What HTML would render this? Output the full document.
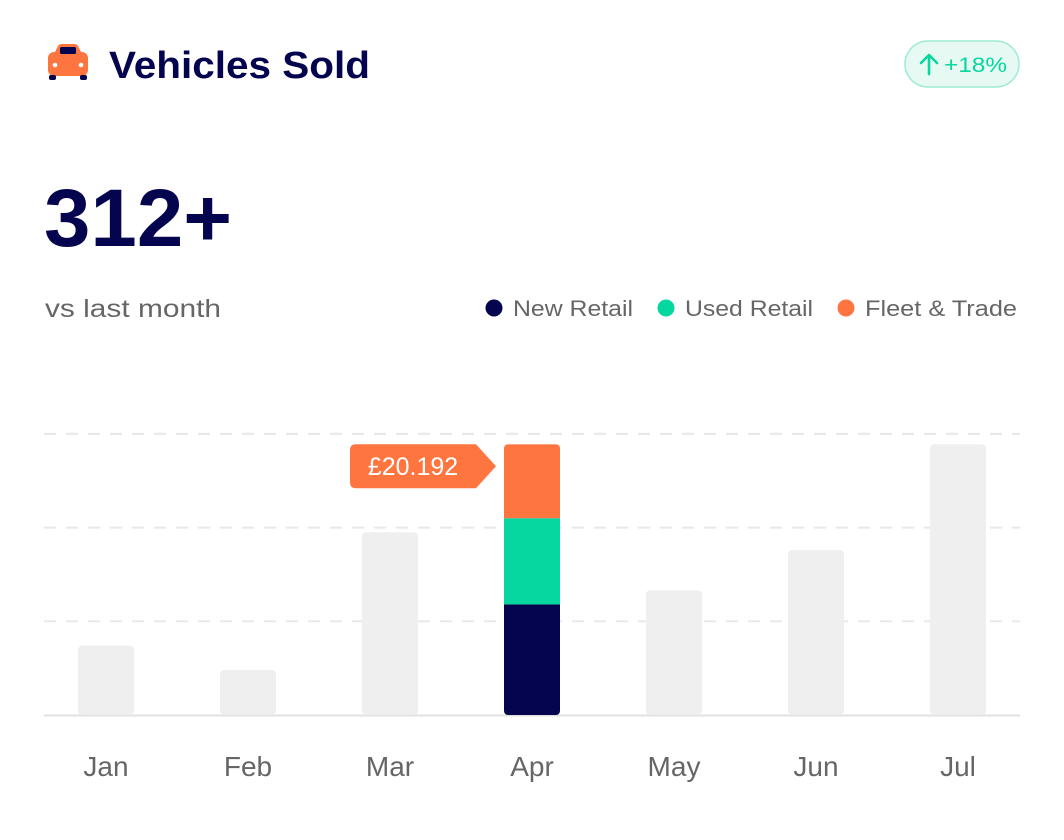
<!DOCTYPE html>
<html><head><meta charset="utf-8"><style>
body{margin:0;background:#fff;font-family:"Liberation Sans",sans-serif;}
#wrap{position:relative;width:1064px;height:840px;overflow:hidden;}
</style></head><body>
<div id="wrap">
<svg id="chart" width="1064" height="840">
  <g>
    <rect x="48" y="52" width="40" height="24" rx="6" fill="#FF7540"/>
    <path d="M54 54 L58 46 Q59 44 62 44 L74 44 Q77 44 78 46 L82 54 Z" fill="#FF7540"/>
    <rect x="60" y="47" width="16" height="7" rx="1.5" fill="#05054F"/>
    <circle cx="55" cy="65" r="2.3" fill="#fff"/><circle cx="81" cy="65" r="2.3" fill="#fff"/>
    <rect x="49" y="75" width="7" height="5" rx="2" fill="#05054F"/><rect x="80" y="75" width="7" height="5" rx="2" fill="#05054F"/>
  </g>
  <text x="109" y="78" font-size="38" font-weight="bold" fill="#05054F" textLength="261" lengthAdjust="spacingAndGlyphs">Vehicles Sold</text>
  <g>
    <rect x="905" y="41" width="114" height="46" rx="23" fill="#E6FAF3" stroke="#9EEBD0" stroke-width="1.5"/>
    <path d="M929 74 V56 M921 63 L929 55 L937 63" stroke="#06D6A0" stroke-width="2.6" fill="none" stroke-linecap="round" stroke-linejoin="round"/>
    <text x="944" y="72" font-size="21" fill="#06D6A0" textLength="63" lengthAdjust="spacingAndGlyphs">+18%</text>
  </g>
  <text x="44" y="246" font-size="82" font-weight="bold" fill="#05054F" textLength="188" lengthAdjust="spacingAndGlyphs">312+</text>
  <text x="45" y="317" font-size="25" fill="#666" textLength="176" lengthAdjust="spacingAndGlyphs">vs last month</text>
  <g>
    <circle cx="494" cy="308" r="8.5" fill="#05054F"/><text x="513" y="316" font-size="22" fill="#666" textLength="120" lengthAdjust="spacingAndGlyphs">New Retail</text>
    <circle cx="666" cy="308" r="8.5" fill="#06D6A0"/><text x="685" y="316" font-size="22" fill="#666" textLength="128" lengthAdjust="spacingAndGlyphs">Used Retail</text>
    <circle cx="846" cy="308" r="8.5" fill="#FF7540"/><text x="865" y="316" font-size="22" fill="#666" textLength="152" lengthAdjust="spacingAndGlyphs">Fleet &amp; Trade</text>
  </g>
  <g id="grid"></g><g id="bars"></g><g id="labels"></g><g id="tip"></g>
</svg>
</div>
<script>
const months=["Jan","Feb","Mar","Apr","May","Jun","Jul"];
const totals=[74,48,195,289,133,176,289];
const newRetail=[0,0,0,118,0,0,0];
const usedRetail=[0,0,0,92,0,0,0];
const fleetTrade=[0,0,0,79,0,0,0];
const gridTicks=[100,200,300];
const highlightIndex=3;
const tipLabel="£20.192";
const NS="http://www.w3.org/2000/svg";
const y0=715,pxPer=0.937;
const y=v=>y0-v*pxPer;
const x=i=>106+i*142;
const bw=56;
function mk(t,a,p){const e=document.createElementNS(NS,t);for(const k in a)e.setAttribute(k,a[k]);p.appendChild(e);return e;}
const grid=document.getElementById('grid');
gridTicks.forEach(t=>{const l=mk('line',{x1:44,x2:1020,y1:y(t),y2:y(t),stroke:'#E8E8E8','stroke-width':2,'stroke-dasharray':'12 10'},grid);

});
const base=mk('line',{x1:44,x2:1020,y1:y0+0.5,y2:y0+0.5,stroke:'#E2E2E2','stroke-width':2},grid);


const bars=document.getElementById('bars');
months.forEach((m,i)=>{
  if(i===highlightIndex){
    const g=mk('g',{},bars);
    
    
    const cp=mk('clipPath',{id:'cp'},g);
    const top=y(newRetail[i]+usedRetail[i]+fleetTrade[i]);
    mk('rect',{x:x(i)-bw/2,y:top,width:bw,height:y0-top,rx:4},cp);
    const segs=[[newRetail[i],'#05054F','segment-new-retail'],[usedRetail[i],'#06D6A0','segment-used-retail'],[fleetTrade[i],'#FF7540','segment-fleet-trade']];
    let acc=0;
    segs.forEach(s=>{const r=mk('rect',{x:x(i)-bw/2,y:y(acc+s[0]),width:bw,height:s[0]*pxPer,fill:s[1],'clip-path':'url(#cp)'},g);
      
      
      acc+=s[0];});
  } else {
    const r=mk('rect',{x:x(i)-bw/2,y:y(totals[i]),width:bw,height:totals[i]*pxPer,rx:4,fill:'#EFEFEF'},bars);
    
    
  }
  const t=mk('text',{x:x(i),y:776,'font-size':28,fill:'#666','text-anchor':'middle'},document.getElementById('labels'));
  t.textContent=m;
  
  
});
const tip=document.getElementById('tip');
const ty=y(totals[highlightIndex]),tr=x(highlightIndex)-bw/2-8;
const tg=mk('g',{},tip);


mk('path',{d:`M${tr-20} ${ty} L${tr-146+6} ${ty} Q${tr-146} ${ty} ${tr-146} ${ty+6} L${tr-146} ${ty+38} Q${tr-146} ${ty+44} ${tr-140} ${ty+44} L${tr-20} ${ty+44} L${tr} ${ty+22} Z`,fill:'#FF7540'},tg);
const tt=mk('text',{x:tr-83,y:ty+31,'font-size':25,fill:'#fff','text-anchor':'middle'},tg);
tt.textContent=tipLabel;
</script>
</body></html>
